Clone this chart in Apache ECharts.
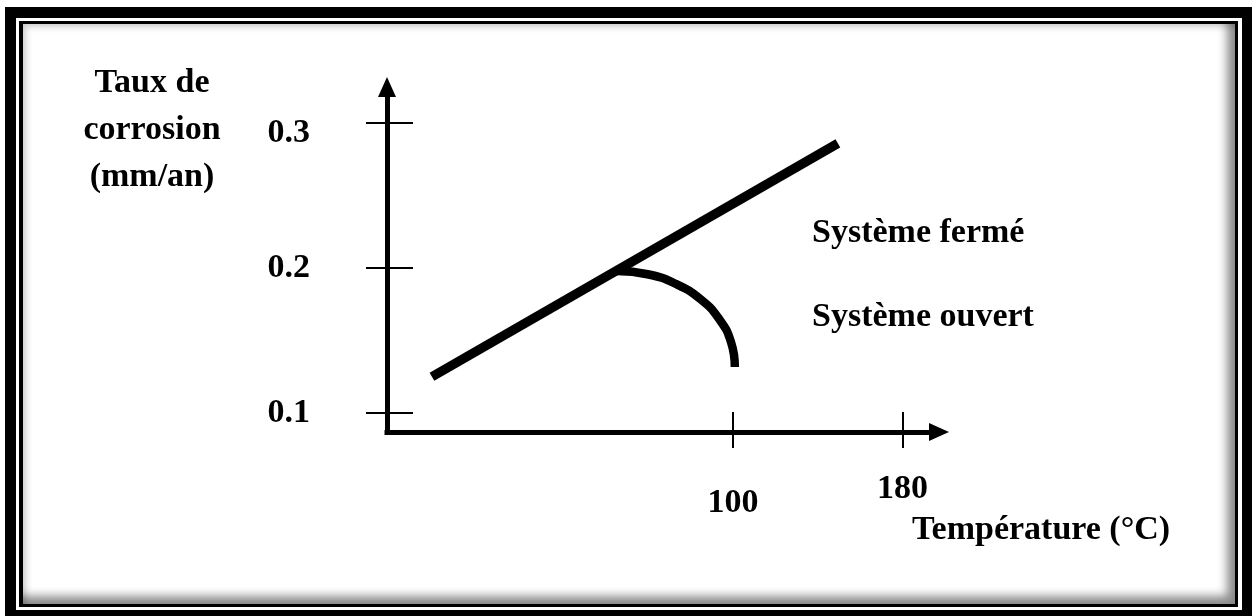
<!DOCTYPE html>
<html>
<head>
<meta charset="utf-8">
<title>Taux de corrosion</title>
<script src="https://cdn.jsdelivr.net/npm/echarts@6/dist/echarts.min.js"></script>
<style>
html, body {
  margin: 0;
  padding: 0;
  background: #fff;
}
.frameOuter {
  position: absolute;
  left: 5px;
  top: 7px;
  width: 1247px;
  height: 614px;
  box-sizing: border-box;
  border: 11px solid #000;
  border-right-width: 10px;
}
.frameInner {
  position: absolute;
  left: 19px;
  top: 21px;
  width: 1219px;
  height: 586px;
  box-sizing: border-box;
  border: 3px solid #000;
  border-left-width: 4px;
  box-shadow: inset -8px -8px 10px rgba(0, 0, 0, 0.45), inset 3px 3px 6px rgba(0, 0, 0, 0.2);
}
#chart {
  position: absolute;
  left: 0;
  top: 0;
  width: 1259px;
  height: 616px;
}
</style>
</head>
<body>
<div class="frameOuter"></div>
<div class="frameInner"></div>
<div id="chart"></div>
<script>
const xTicks = [100, 180]
const yTicks = [0.1, 0.2, 0.3]
// système fermé : droite
const closedSystem = [[-42, 0.125], [149.5, 0.286]]
// système ouvert : part de la droite et retombe vers 100 °C
const openSystem = [
  [45.3, 0.1979], [59.7, 0.1957], [73.1, 0.189], [84.6, 0.1786],
  [93.5, 0.1648], [99.1, 0.1488], [100.9, 0.1317]
]
const yName = ['Taux de', 'corrosion', '(mm/an)']
const xName = 'Température (°C)'
const seriesNames = ['Système fermé', 'Système ouvert']

const font = '"Liberation Serif", "Times New Roman", serif'
const textStyle = {
  fontFamily: font,
  fontWeight: 'bold',
  fontSize: 34,
  color: '#000'
}
// petits décalages des étiquettes comme sur le dessin d'origine
const richLabels = {
  down: { ...textStyle, padding: [20, 0, 0, 0] },
  down2: { ...textStyle, padding: [14, 0, 0, 0] },
  up: { ...textStyle, padding: [0, 0, 12, 0] }
}

const option = {
  animation: false,
  grid: {
    left: 387,
    right: 320,
    top: 87,
    bottom: 184
  },
  xAxis: [{
    type: 'value',
    min: -63.2,
    max: 197.2,
    position: 'bottom',
    splitLine: { show: false },
    axisLine: {
      show: true,
      onZero: false,
      symbol: ['none', 'triangle'],
      symbolSize: [18, 20],
      lineStyle: { color: '#000', width: 5, cap: 'square' }
    },
    axisTick: {
      show: true,
      inside: false,
      length: 16,
      customValues: xTicks,
      lineStyle: { color: '#000', width: 2 }
    },
    axisLabel: {
      show: true,
      margin: 40,
      customValues: xTicks,
      formatter: v => (v === 100 ? '{down2|100}' : '{up|' + v + '}'),
      rich: richLabels,
      ...textStyle
    }
  }, {
    // partie intérieure des graduations
    type: 'value',
    min: -63.2,
    max: 197.2,
    position: 'bottom',
    splitLine: { show: false },
    axisLine: { show: false, onZero: false },
    axisTick: {
      show: true,
      inside: true,
      length: 20,
      customValues: xTicks,
      lineStyle: { color: '#000', width: 2 }
    },
    axisLabel: { show: false }
  }],
  yAxis: [{
    type: 'value',
    min: 0.0869,
    max: 0.3248,
    position: 'left',
    splitLine: { show: false },
    axisLine: {
      show: true,
      onZero: false,
      symbol: ['none', 'triangle'],
      symbolSize: [18, 20],
      lineStyle: { color: '#000', width: 5, cap: 'square' }
    },
    axisTick: {
      show: true,
      inside: false,
      length: 21,
      customValues: yTicks,
      lineStyle: { color: '#000', width: 2 }
    },
    axisLabel: {
      show: true,
      margin: 77,
      customValues: yTicks,
      formatter: v => (v === 0.3 ? '{down|0.3}' : v.toFixed(1)),
      rich: richLabels,
      ...textStyle
    }
  }, {
    type: 'value',
    min: 0.0869,
    max: 0.3248,
    position: 'left',
    splitLine: { show: false },
    axisLine: { show: false, onZero: false },
    axisTick: {
      show: true,
      inside: true,
      length: 26,
      customValues: yTicks,
      lineStyle: { color: '#000', width: 2 }
    },
    axisLabel: { show: false }
  }],
  series: [
    {
      name: seriesNames[0],
      type: 'line',
      data: closedSystem,
      showSymbol: false,
      lineStyle: { color: '#000', width: 9.5, cap: 'butt' }
    },
    {
      name: seriesNames[1],
      type: 'line',
      data: openSystem,
      smooth: 0.5,
      showSymbol: false,
      lineStyle: { color: '#000', width: 8.5, cap: 'butt' }
    }
  ],
  graphic: [
    {
      type: 'text',
      x: 152,
      y: 60,
      style: {
        text: yName.join('\n'),
        align: 'center',
        verticalAlign: 'top',
        lineHeight: 47,
        font: 'bold 34px ' + font,
        fill: '#000'
      }
    },
    {
      type: 'text',
      x: 912,
      y: 530,
      style: { text: xName, verticalAlign: 'middle', font: 'bold 34px ' + font, fill: '#000' }
    },
    {
      type: 'text',
      x: 812,
      y: 233,
      style: { text: seriesNames[0], verticalAlign: 'middle', font: 'bold 34px ' + font, fill: '#000' }
    },
    {
      type: 'text',
      x: 812,
      y: 317,
      style: { text: seriesNames[1], verticalAlign: 'middle', font: 'bold 34px ' + font, fill: '#000' }
    }
  ]
}

const myChart = echarts.init(document.getElementById('chart'))
myChart.setOption(option)
</script>
</body>
</html>
